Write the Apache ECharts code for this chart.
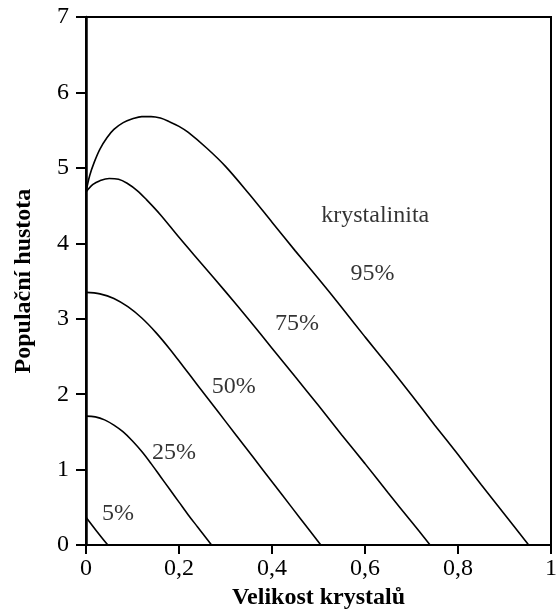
<!DOCTYPE html>
<html><head><meta charset="utf-8">
<script src="https://cdn.jsdelivr.net/npm/echarts@6/dist/echarts.min.js"></script>
<style>html,body{margin:0;padding:0;background:#fff}#c{width:560px;height:615px}</style>
</head><body><div id="c"></div>
<script>
// Curve data: [velikost krystalů, populační hustota]
const c5  = [[0,0.37],[0.023,0.185],[0.047,0]];
const c25 = [[0,1.71],[0.02,1.70],[0.04,1.66],[0.06,1.59],[0.08,1.50],[0.10,1.38],[0.12,1.24],[0.14,1.08],[0.16,0.91],[0.18,0.74],[0.20,0.57],[0.22,0.40],[0.24,0.24],[0.255,0.12],[0.27,0]];
const c50 = [[0,3.35],[0.03,3.33],[0.06,3.27],[0.09,3.16],[0.12,3.01],[0.15,2.82],[0.18,2.60],[0.21,2.36],[0.24,2.12],[0.27,1.88],[0.30,1.64],[0.34,1.32],[0.38,1.00],[0.42,0.68],[0.46,0.36],[0.505,0]];
const c75 = [[0,4.68],[0.015,4.78],[0.03,4.83],[0.05,4.86],[0.07,4.85],[0.09,4.79],[0.11,4.70],[0.13,4.58],[0.16,4.38],[0.20,4.08],[0.25,3.72],[0.30,3.36],[0.35,2.99],[0.40,2.61],[0.45,2.23],[0.50,1.85],[0.55,1.46],[0.60,1.08],[0.65,0.69],[0.70,0.31],[0.74,0]];
const c95 = [[0,4.68],[0.008,4.90],[0.018,5.08],[0.03,5.25],[0.045,5.40],[0.06,5.51],[0.08,5.60],[0.10,5.65],[0.12,5.68],[0.14,5.68],[0.16,5.66],[0.18,5.61],[0.20,5.55],[0.22,5.47],[0.26,5.26],[0.30,5.02],[0.35,4.66],[0.40,4.28],[0.45,3.90],[0.50,3.53],[0.55,3.15],[0.60,2.76],[0.65,2.38],[0.70,1.99],[0.75,1.59],[0.80,1.20],[0.85,0.80],[0.90,0.41],[0.952,0]];

const xTickLabels = {0:'0', 0.2:'0,2', 0.4:'0,4', 0.6:'0,6', 0.8:'0,8', 1:'1'};
const noteTexts = ['krystalinita','95%','75%','50%','25%','5%'];
const noteX = [0.622, 0.616, 0.454, 0.318, 0.189, 0.069];
const noteY = [4.36, 3.60, 2.94, 2.10, 1.23, 0.42];

const FONT = '"Liberation Serif", "Times New Roman", serif';
const curves = [c5, c25, c50, c75, c95];

const chart = echarts.init(document.getElementById('c'), null, {renderer:'canvas'});
chart.setOption({
  animation: false,
  backgroundColor: '#fff',
  grid: {left: 86, right: 2, top: 17, bottom: 67, show: true, borderColor: '#000', borderWidth: 2, containLabel: false},
  xAxis: {
    type: 'value', min: 0, max: 1, interval: 0.2,
    name: 'Velikost krystalů', nameLocation: 'middle', nameGap: 38,
    nameTextStyle: {fontFamily: FONT, fontSize: 24, fontWeight: 'bold', color: '#000'},
    axisLine: {show: true, onZero: false, lineStyle: {color: '#000', width: 2.2}},
    axisTick: {show: true, inside: false, length: 9, lineStyle: {color: '#000', width: 2}},
    axisLabel: {fontFamily: FONT, fontSize: 24, color: '#000', margin: 12,
      formatter: v => xTickLabels[Math.round(v*10)/10] ?? String(v)},
    splitLine: {show: false}
  },
  yAxis: {
    type: 'value', min: 0, max: 7, interval: 1,
    name: 'Populační hustota', nameLocation: 'middle', nameGap: 50, nameRotate: 90,
    nameTextStyle: {fontFamily: FONT, fontSize: 24, fontWeight: 'bold', color: '#000'},
    axisLine: {show: true, onZero: false, lineStyle: {color: '#000', width: 2.5}},
    axisTick: {show: true, inside: false, length: 10, lineStyle: {color: '#000', width: 2}},
    axisLabel: {fontFamily: FONT, fontSize: 24, color: '#000', margin: 17},
    splitLine: {show: false}
  },
  series: curves.map(d => ({
    type: 'line', data: d, smooth: 0.35, showSymbol: false, symbol: 'none',
    lineStyle: {color: '#000', width: 1.6}, silent: true, clip: true
  })).concat([{
    type: 'scatter', symbolSize: 0, silent: true, z: 10,
    data: noteTexts.map((t, i) => ({name: t, value: [noteX[i], noteY[i]]})),
    label: {show: true, position: 'inside', formatter: p => p.name,
      fontFamily: FONT, fontSize: 24, color: '#000'}
  }])
});
</script>
</body></html>
